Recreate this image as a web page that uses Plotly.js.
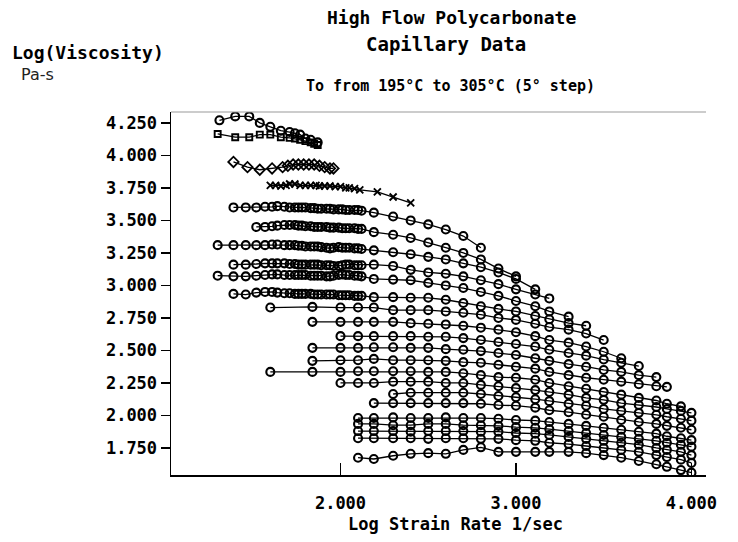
<!DOCTYPE html>
<html>
<head>
<meta charset="utf-8">
<script src="https://cdn.plot.ly/plotly-3.0.1.min.js"></script>
<style>
  html, body { margin: 0; padding: 0; background: #fff; }
  #chart { width: 738px; height: 542px; }
</style>
</head>
<body>
<div id="chart"></div>
<script>
// ---- strain-rate grids (log10 1/sec) ----
const rateFine = [1.30, 1.39, 1.46, 1.52, 1.57, 1.61, 1.64, 1.68, 1.71, 1.74, 1.76, 1.78, 1.80, 1.83,
                  1.85, 1.87, 1.89, 1.92, 1.94, 1.96, 1.99, 2.01, 2.03, 2.05, 2.08, 2.10, 2.12,
                  2.19, 2.30, 2.40, 2.50, 2.60, 2.70, 2.80, 2.90, 3.00, 3.11, 3.19, 3.30, 3.40];
const rateWide = [1.60, 1.84, 2.00, 2.10, 2.19, 2.30, 2.40, 2.50, 2.60, 2.70, 2.80, 2.90, 3.00,
                  3.11, 3.19, 3.30, 3.40, 3.50, 3.60, 3.70, 3.80, 3.86, 3.94, 4.00];

// ---- lowest temperature runs (own rate lists) ----
const rate01 = [1.31, 1.40, 1.48, 1.54, 1.60, 1.66, 1.71, 1.74, 1.77, 1.80, 1.83, 1.87];
const visc01 = [4.27, 4.30, 4.30, 4.25, 4.22, 4.19, 4.18, 4.17, 4.16, 4.13, 4.12, 4.10];
const rate02 = [1.30, 1.40, 1.48, 1.54, 1.60, 1.66, 1.71, 1.74, 1.77, 1.80, 1.83, 1.85, 1.87];
const visc02 = [4.165, 4.14, 4.14, 4.16, 4.16, 4.14, 4.135, 4.13, 4.12, 4.11, 4.10, 4.09, 4.08];
const rate03 = [1.39, 1.47, 1.54, 1.61, 1.67, 1.70, 1.73, 1.76, 1.79, 1.82, 1.85, 1.88, 1.91, 1.94, 1.96];
const visc03 = [3.95, 3.91, 3.89, 3.90, 3.91, 3.92, 3.93, 3.93, 3.93, 3.93, 3.93, 3.92, 3.91, 3.90, 3.90];
const rate04 = [1.60, 1.63, 1.66, 1.69, 1.71, 1.74, 1.77, 1.80, 1.83, 1.86, 1.88, 1.91, 1.94, 1.97,
                2.00, 2.03, 2.05, 2.08, 2.11, 2.21, 2.30, 2.40];
const visc04 = [3.77, 3.77, 3.765, 3.77, 3.78, 3.78, 3.77, 3.77, 3.77, 3.77, 3.765, 3.765, 3.765, 3.76,
                3.76, 3.75, 3.75, 3.745, 3.735, 3.72, 3.68, 3.635];

// ---- runs on the fine grid (first index into rateFine) ----
const start05 = 1;
const visc05 = [3.60, 3.60, 3.60, 3.605, 3.605, 3.61, 3.605, 3.60, 3.60, 3.60, 3.60, 3.60, 3.595, 3.595,
                3.59, 3.59, 3.59, 3.59, 3.585, 3.585, 3.585, 3.58, 3.58, 3.58, 3.58, 3.575,
                3.56, 3.53, 3.50, 3.47, 3.43, 3.38, 3.29];
const start06 = 3;
const visc06 = [3.45, 3.45, 3.455, 3.46, 3.465, 3.465, 3.465, 3.46, 3.46, 3.455, 3.455, 3.45, 3.45,
                3.45, 3.45, 3.445, 3.445, 3.445, 3.44, 3.44, 3.44, 3.44, 3.435, 3.435,
                3.41, 3.39, 3.365, 3.33, 3.29, 3.25, 3.20, 3.13, 3.07];
const start07 = 0;
const visc07 = [3.31, 3.31, 3.31, 3.31, 3.31, 3.315, 3.315, 3.31, 3.31, 3.31, 3.305, 3.305, 3.30, 3.30,
                3.30, 3.30, 3.295, 3.29, 3.285, 3.29, 3.295, 3.29, 3.29, 3.29, 3.285, 3.285, 3.28,
                3.27, 3.255, 3.24, 3.22, 3.20, 3.17, 3.14, 3.10, 3.05, 2.97];
const start08 = 1;
const visc08 = [3.16, 3.16, 3.165, 3.17, 3.17, 3.17, 3.17, 3.165, 3.165, 3.16, 3.16, 3.16, 3.16, 3.16,
                3.16, 3.155, 3.155, 3.155, 3.15, 3.15, 3.155, 3.16, 3.16, 3.155, 3.155, 3.155,
                3.16, 3.15, 3.12, 3.10, 3.09, 3.07, 3.04, 3.01, 2.97, 2.93, 2.90];
const start09 = 0;
const visc09 = [3.075, 3.07, 3.07, 3.075, 3.08, 3.085, 3.085, 3.08, 3.08, 3.08, 3.08, 3.08, 3.08, 3.075,
                3.075, 3.075, 3.075, 3.07, 3.07, 3.075, 3.08, 3.085, 3.08, 3.08, 3.075, 3.075, 3.07,
                3.05, 3.045, 3.04, 3.02, 3.00, 2.98, 2.95, 2.92, 2.88, 2.84, 2.80, 2.76];
const start10 = 1;
const visc10 = [2.935, 2.93, 2.945, 2.95, 2.95, 2.945, 2.94, 2.94, 2.935, 2.935, 2.935, 2.935, 2.935,
                2.93, 2.93, 2.93, 2.93, 2.93, 2.93, 2.925, 2.925, 2.925, 2.925, 2.92, 2.92, 2.92,
                2.91, 2.91, 2.905, 2.905, 2.89, 2.865, 2.84, 2.82, 2.80, 2.765, 2.74, 2.71, 2.69];

// ---- runs on the wide grid (first index into rateWide) ----
const start11 = 0;
const visc11 = [2.83, 2.835, 2.83, 2.83, 2.83, 2.81, 2.81, 2.81, 2.80, 2.79, 2.775, 2.75, 2.735, 2.705,
                2.68, 2.66, 2.63, 2.58];
const start12 = 1;
const visc12 = [2.72, 2.72, 2.72, 2.72, 2.72, 2.71, 2.705, 2.70, 2.69, 2.675, 2.66, 2.64, 2.61, 2.58,
                2.56, 2.53, 2.49, 2.44];
const start13 = 2;
const visc13 = [2.61, 2.61, 2.61, 2.61, 2.61, 2.605, 2.605, 2.595, 2.58, 2.565, 2.55, 2.53, 2.505, 2.48,
                2.46, 2.43, 2.405, 2.38];
const start14 = 1;
const visc14 = [2.52, 2.52, 2.52, 2.525, 2.525, 2.52, 2.52, 2.51, 2.505, 2.495, 2.48, 2.465, 2.44, 2.42,
                2.395, 2.375, 2.35, 2.335, 2.31, 2.295];
const start15 = 1;
const visc15 = [2.42, 2.425, 2.425, 2.435, 2.425, 2.425, 2.425, 2.42, 2.41, 2.405, 2.39, 2.375, 2.36,
                2.335, 2.31, 2.29, 2.275, 2.26, 2.24, 2.225, 2.22];
const start16 = 0;
const visc16 = [2.335, 2.335, 2.335, 2.34, 2.34, 2.34, 2.34, 2.335, 2.335, 2.325, 2.31, 2.295, 2.29,
                2.275, 2.25, 2.225, 2.205, 2.18, 2.16, 2.135, 2.115, 2.09, 2.07];
const start17 = 2;
const visc17 = [2.25, 2.25, 2.25, 2.26, 2.26, 2.26, 2.25, 2.25, 2.235, 2.225, 2.21, 2.195, 2.18, 2.16,
                2.135, 2.12, 2.095, 2.08, 2.065, 2.05, 2.035, 2.02];
const start18 = 5;
const visc18 = [2.165, 2.175, 2.175, 2.175, 2.175, 2.165, 2.15, 2.14, 2.125, 2.11, 2.09, 2.075, 2.05,
                2.035, 2.02, 2.005, 1.99, 1.975, 1.96];
const start19 = 4;
const visc19 = [2.095, 2.095, 2.095, 2.095, 2.095, 2.095, 2.09, 2.08, 2.075, 2.06, 2.04, 2.025, 2.005,
                1.99, 1.965, 1.95, 1.935, 1.92, 1.905, 1.89];
const start20 = 3;
const visc20 = [1.98, 1.98, 1.985, 1.98, 1.98, 1.985, 1.98, 1.98, 1.975, 1.965, 1.96, 1.95, 1.935, 1.92,
                1.905, 1.89, 1.875, 1.86, 1.84, 1.825, 1.81];
const start21 = 3;
const visc21 = [1.935, 1.935, 1.925, 1.925, 1.935, 1.935, 1.925, 1.925, 1.92, 1.91, 1.905, 1.895, 1.88,
                1.865, 1.85, 1.835, 1.82, 1.805, 1.79, 1.775, 1.76];
const start22 = 3;
const visc22 = [1.88, 1.88, 1.88, 1.875, 1.88, 1.88, 1.88, 1.875, 1.875, 1.865, 1.86, 1.85, 1.835, 1.82,
                1.805, 1.79, 1.775, 1.75, 1.735, 1.72, 1.695];
const start23 = 3;
const visc23 = [1.825, 1.825, 1.825, 1.825, 1.82, 1.825, 1.825, 1.82, 1.82, 1.81, 1.805, 1.79, 1.78,
                1.765, 1.75, 1.735, 1.72, 1.695, 1.68, 1.66, 1.635];
const start24 = 3;
const visc24 = [1.675, 1.665, 1.69, 1.705, 1.71, 1.705, 1.735, 1.755, 1.72, 1.72, 1.72, 1.72, 1.72, 1.71,
                1.695, 1.675, 1.65, 1.625, 1.605, 1.58, 1.56];

// ---- axis ticks ----
const xTicks = [2, 3, 4];
const yTicks = [1.75, 2.0, 2.25, 2.5, 2.75, 3.0, 3.25, 3.5, 3.75, 4.0, 4.25];

const MONO = '"DejaVu Sans Mono", "Liberation Mono", monospace';

function run(x, y, symbol, size, width) {
  return {
    type: 'scatter', mode: 'lines+markers', x: x, y: y,
    line: { color: '#000', width: 1.3 },
    marker: { symbol: symbol || 'circle-open', size: size || 8, color: '#000',
              line: { color: '#000', width: width || 2.1 } },
    hoverinfo: 'skip', showlegend: false
  };
}
const onFine = (s, v) => run(rateFine.slice(s, s + v.length), v);
const onWide = (s, v) => run(rateWide.slice(s, s + v.length), v);

const traces = [
  run(rate01, visc01, 'circle-open', 8),
  run(rate02, visc02, 'square-open', 6, 1.9),
  run(rate03, visc03, 'diamond-open', 8, 1.8),
  run(rate04, visc04, 'x-thin-open', 7, 1.9),
  onFine(start05, visc05), onFine(start06, visc06), onFine(start07, visc07),
  onFine(start08, visc08), onFine(start09, visc09), onFine(start10, visc10),
  onWide(start11, visc11), onWide(start12, visc12), onWide(start13, visc13),
  onWide(start14, visc14), onWide(start15, visc15), onWide(start16, visc16),
  onWide(start17, visc17), onWide(start18, visc18), onWide(start19, visc19),
  onWide(start20, visc20), onWide(start21, visc21), onWide(start22, visc22),
  onWide(start23, visc23), onWide(start24, visc24)
];

const textFont = (size) => ({ family: MONO, size: size, color: '#000', weight: 'bold' });

const layout = {
  width: 738, height: 542,
  margin: { l: 171, r: 32, t: 112, b: 67 },
  paper_bgcolor: '#fff', plot_bgcolor: '#fff',
  showlegend: false,
  xaxis: {
    range: [1.034, 4.083], tickmode: 'array', tickvals: xTicks, tickformat: '.3f',
    ticks: 'inside', ticklen: 12, tickwidth: 1.5, tickcolor: '#000',
    showline: true, linecolor: '#000', linewidth: 1.5,
    showgrid: false, zeroline: false, ticklabelstandoff: 12,
    tickfont: textFont(17)
  },
  yaxis: {
    range: [1.542, 4.334], tickmode: 'array', tickvals: yTicks, tickformat: '.3f',
    ticks: 'outside', ticklen: 9, tickwidth: 1.5, tickcolor: '#000',
    showline: true, linecolor: '#000', linewidth: 1.5,
    showgrid: false, zeroline: false,
    tickfont: textFont(17)
  },
  shapes: [
    { type: 'line', xref: 'paper', yref: 'paper', x0: 0, x1: 1, y0: 1, y1: 1,
      line: { color: '#999', width: 1 } }
  ],
  annotations: [
    { text: 'High Flow Polycarbonate', xref: 'paper', yref: 'paper', x: 0.5234, y: 1.259,
      xanchor: 'center', yanchor: 'middle', showarrow: false, font: textFont(18) },
    { text: 'Capillary Data', xref: 'paper', yref: 'paper', x: 0.514, y: 1.187,
      xanchor: 'center', yanchor: 'middle', showarrow: false, font: textFont(19) },
    { text: 'To from 195°C to 305°C (5° step)', xref: 'paper', yref: 'paper', x: 0.5215, y: 1.0716,
      xanchor: 'center', yanchor: 'middle', showarrow: false, font: textFont(15) },
    { text: 'Log(Viscosity)', xref: 'paper', yref: 'paper', x: -0.155, y: 1.165,
      xanchor: 'center', yanchor: 'middle', showarrow: false, font: textFont(18) },
    { text: 'Pa-s', xref: 'paper', yref: 'paper', x: -0.2486, y: 1.102,
      xanchor: 'center', yanchor: 'middle', showarrow: false,
      font: { family: '"DejaVu Sans", sans-serif', size: 16, color: '#222' } },
    { text: 'Log Strain Rate 1/sec', xref: 'paper', yref: 'paper', x: 0.531, y: -0.135,
      xanchor: 'center', yanchor: 'middle', showarrow: false, font: textFont(17) }
  ]
};

Plotly.newPlot('chart', traces, layout, { staticPlot: true, displayModeBar: false });
</script>
</body>
</html>
